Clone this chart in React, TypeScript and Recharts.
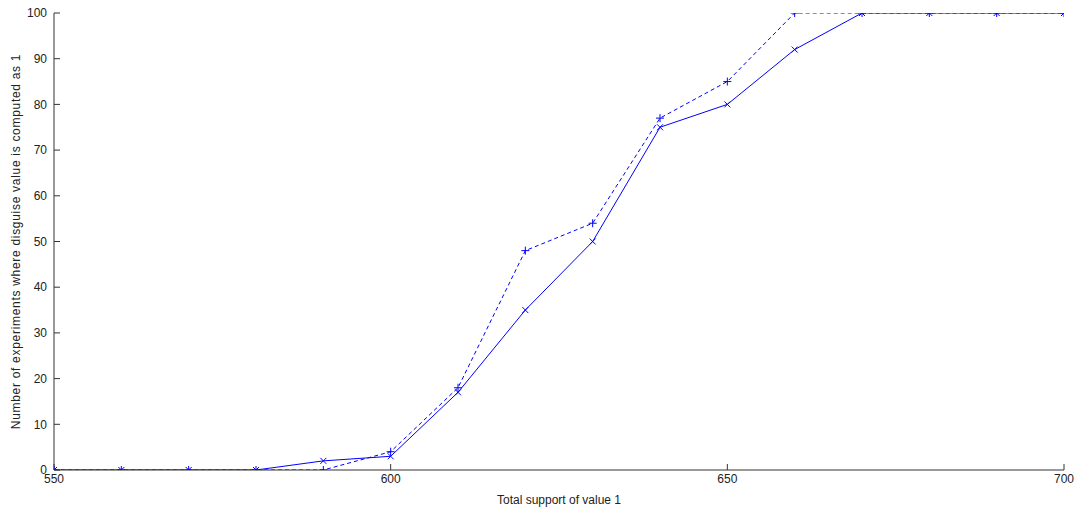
import React from "react";
import { LineChart, Line, XAxis, YAxis } from "recharts";

const supports = [550, 560, 570, 580, 590, 600, 610, 620, 630, 640, 650, 660, 670, 680, 690, 700];
const solidSeries = [0, 0, 0, 0, 2, 3, 17, 35, 50, 75, 80, 92, 100, 100, 100, 100];
const dashedSeries = [0, 0, 0, 0, 0, 4, 18, 48, 54, 77, 85, 100, 100, 100, 100, 100];
const xTicks = [550, 600, 650, 700];
const yTicks = [0, 10, 20, 30, 40, 50, 60, 70, 80, 90, 100];

const data = supports.map((s, i) => ({ s, solid: solidSeries[i], dashed: dashedSeries[i] }));

const BLUE = "#0000ff";
const AXIS = "#333333";
const FONT = "'Liberation Sans', Arial, sans-serif";

const XMark = (props: any) => {
  const { cx, cy, index } = props;
  const r = 3;
  return (
    <path
      key={`xm-${index}`}
      d={`M${cx - r},${cy - r}L${cx + r},${cy + r}M${cx - r},${cy + r}L${cx + r},${cy - r}`}
      stroke={BLUE}
      strokeWidth={1}
      fill="none"
    />
  );
};

const PlusMark = (props: any) => {
  const { cx, cy, index } = props;
  const r = 4;
  return (
    <path
      key={`pm-${index}`}
      d={`M${cx - r},${cy}L${cx + r},${cy}M${cx},${cy - r}L${cx},${cy + r}`}
      stroke={BLUE}
      strokeWidth={1}
      fill="none"
    />
  );
};

const YLabel = (props: any) => {
  const vb = props.viewBox || {};
  const x = (vb.x || 0) + 16;
  const y = (vb.y || 0) + (vb.height || 0) / 2;
  return (
    <text
      x={x}
      y={y}
      transform={`rotate(-90, ${x}, ${y})`}
      textAnchor="middle"
      dominantBaseline="central"
      fontSize={12}
      letterSpacing={0.7}
      fontFamily={FONT}
      fill="#222"
    >
      Number of experiments where disguise value is computed as 1
    </text>
  );
};

export default function App() {
  return (
    <div style={{ position: "absolute", left: 0, top: 0, width: 1081, height: 510, background: "#fff" }}>
      <LineChart width={1081} height={510} data={data} margin={{ top: 13, right: 17, bottom: 0, left: 0 }}>
        <XAxis
          dataKey="s"
          type="number"
          domain={[550, 700]}
          ticks={xTicks}
          allowDataOverflow
          height={40}
          stroke={AXIS}
          tickSize={-6}
          tickMargin={10}
          tick={{ fontSize: 12, fontFamily: FONT, fill: "#222" }}
          label={{ value: "Total support of value 1", position: "insideBottom", offset: 6, fontSize: 12, fontFamily: FONT, fill: "#222" }}
        />
        <YAxis
          type="number"
          domain={[0, 100]}
          ticks={yTicks}
          allowDataOverflow
          width={54}
          stroke={AXIS}
          tickSize={-6}
          tickMargin={13}
          tick={{ fontSize: 12, fontFamily: FONT, fill: "#222" }}
          label={<YLabel />}
        />
        <Line
          type="linear"
          dataKey="dashed"
          stroke={BLUE}
          strokeWidth={1}
          strokeDasharray="4 3"
          dot={PlusMark}
          activeDot={false}
          isAnimationActive={false}
        />
        <Line
          type="linear"
          dataKey="solid"
          stroke={BLUE}
          strokeWidth={1}
          dot={XMark}
          activeDot={false}
          isAnimationActive={false}
        />
      </LineChart>
    </div>
  );
}
